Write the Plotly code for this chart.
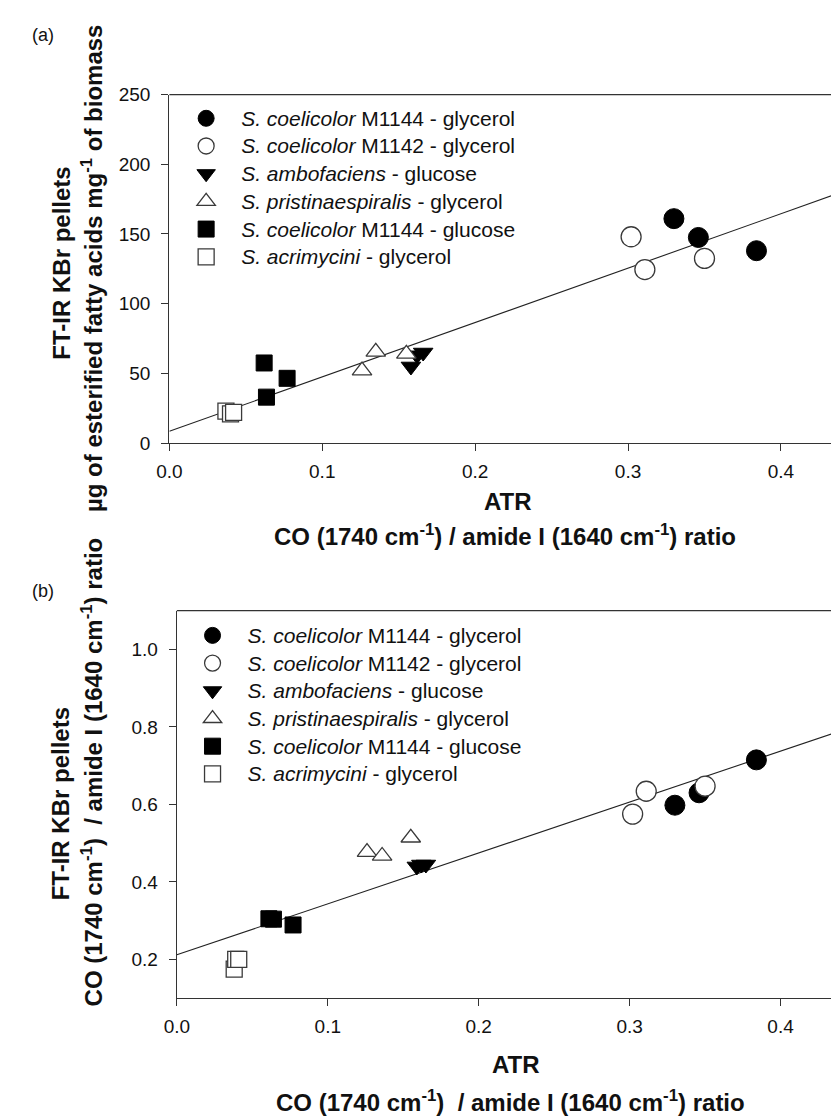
import numpy as np
import plotly.graph_objects as go

W, H = 839, 1117

# ---------------- data ----------------
series_names = [
    "<i>S. coelicolor</i> M1144 - glycerol",
    "<i>S. coelicolor</i> M1142 - glycerol",
    "<i>S. ambofaciens</i> - glucose",
    "<i>S. pristinaespiralis</i> - glycerol",
    "<i>S. coelicolor</i> M1144 - glucose",
    "<i>S. acrimycini</i> - glycerol",
]

# panel (a): x = ATR ratio, y = ug esterified fatty acids / mg biomass
a_m1144_gly_x = [0.330, 0.346, 0.384]
a_m1144_gly_y = [161.0, 147.5, 138.0]
a_m1142_gly_x = [0.302, 0.311, 0.350]
a_m1142_gly_y = [148.0, 124.5, 132.5]
a_ambo_glc_x = [0.158, 0.162, 0.166]
a_ambo_glc_y = [55.0, 63.0, 65.0]
a_pristi_gly_x = [0.126, 0.135, 0.155]
a_pristi_gly_y = [52.0, 65.5, 64.0]
a_m1144_glc_x = [0.062, 0.0635, 0.077]
a_m1144_glc_y = [57.5, 33.0, 46.5]
a_acri_gly_x = [0.037, 0.040, 0.042]
a_acri_gly_y = [23.0, 21.0, 22.0]
a_fit_intercept = 8.5
a_fit_slope = 390.0

# panel (b): x = ATR ratio, y = FT-IR KBr CO/amide I ratio
b_m1144_gly_x = [0.330, 0.346, 0.384]
b_m1144_gly_y = [0.598, 0.630, 0.715]
b_m1142_gly_x = [0.302, 0.311, 0.350]
b_m1142_gly_y = [0.575, 0.634, 0.647]
b_ambo_glc_x = [0.159, 0.162, 0.165]
b_ambo_glc_y = [0.440, 0.445, 0.445]
b_pristi_gly_x = [0.126, 0.136, 0.155]
b_pristi_gly_y = [0.477, 0.467, 0.514]
b_m1144_glc_x = [0.061, 0.064, 0.077]
b_m1144_glc_y = [0.305, 0.304, 0.289]
b_acri_gly_x = [0.038, 0.039, 0.041]
b_acri_gly_y = [0.175, 0.200, 0.200]
b_fit_intercept = 0.212
b_fit_slope = 1.314

a_xticks = [0.0, 0.1, 0.2, 0.3, 0.4]
a_yticks = [0, 50, 100, 150, 200, 250]
b_xticks = [0.0, 0.1, 0.2, 0.3, 0.4]
b_yticks = [0.2, 0.4, 0.6, 0.8, 1.0]

# ---------------- styling ----------------
FONT = "Liberation Sans, Arial, sans-serif"
AX = "#333333"
OUT = "#3a3a3a"
TXT = "#111111"
styles = [
    dict(symbol="circle", size=20, color="black", line=dict(color="black", width=1)),
    dict(symbol="circle", size=20, color="white", line=dict(color=OUT, width=1.3)),
    dict(symbol="triangle-down", size=17, color="black", line=dict(color="black", width=1)),
    dict(symbol="triangle-up", size=17, color="white", line=dict(color=OUT, width=1.3)),
    dict(symbol="square", size=16, color="black", line=dict(color="black", width=1)),
    dict(symbol="square", size=16, color="white", line=dict(color=OUT, width=1.3)),
]

fig = go.Figure()

def px_x(p):
    return p / W

def px_y(p):
    return 1 - p / H

# panel geometry (pixels)
a_left, a_top, a_bot = 150.7, 78.0, 433.3
b_left, b_top, b_bot = 158.3, 604.0, 999.0
a_xmax = (W - a_left) / 1553.0
b_xmax = (W - b_left) / 1533.0

# fit lines (behind markers)
a_line_x = [0.0, a_xmax]
fig.add_trace(go.Scatter(x=a_line_x, y=[a_fit_intercept + a_fit_slope * v for v in a_line_x],
                         mode="lines", line=dict(color="#222", width=1.1),
                         showlegend=False, hoverinfo="skip", xaxis="x", yaxis="y"))
b_line_x = [0.0, b_xmax]
fig.add_trace(go.Scatter(x=b_line_x, y=[b_fit_intercept + b_fit_slope * v for v in b_line_x],
                         mode="lines", line=dict(color="#222", width=1.1),
                         showlegend=False, hoverinfo="skip", xaxis="x2", yaxis="y2"))

a_sets = [(a_m1144_gly_x, a_m1144_gly_y), (a_m1142_gly_x, a_m1142_gly_y),
          (a_ambo_glc_x, a_ambo_glc_y), (a_pristi_gly_x, a_pristi_gly_y),
          (a_m1144_glc_x, a_m1144_glc_y), (a_acri_gly_x, a_acri_gly_y)]
b_sets = [(b_m1144_gly_x, b_m1144_gly_y), (b_m1142_gly_x, b_m1142_gly_y),
          (b_ambo_glc_x, b_ambo_glc_y), (b_pristi_gly_x, b_pristi_gly_y),
          (b_m1144_glc_x, b_m1144_glc_y), (b_acri_gly_x, b_acri_gly_y)]

def big(name):
    return '<span style="font-size:21px">%s</span>' % name

for name, (xs, ys), st in zip(series_names, a_sets, styles):
    fig.add_trace(go.Scatter(x=xs, y=ys, mode="markers", name=big(name), marker=st,
                             xaxis="x", yaxis="y", legend="legend"))
for name, (xs, ys), st in zip(series_names, b_sets, styles):
    fig.add_trace(go.Scatter(x=xs, y=ys, mode="markers", name=big(name), marker=st,
                             xaxis="x2", yaxis="y2", legend="legend2"))

axis_common = dict(showline=True, linecolor=AX, linewidth=1.3, ticks="outside",
                   ticklen=7, tickwidth=1.2, tickcolor=AX, showgrid=False, zeroline=False,
                   tickfont=dict(family=FONT, size=19, color=TXT))

fig.update_layout(
    width=W, height=H, margin=dict(l=0, r=0, t=0, b=0),
    paper_bgcolor="white", plot_bgcolor="white",
    font=dict(family=FONT, color=TXT),
    xaxis=dict(domain=[px_x(a_left), 1], range=[0, a_xmax], tickvals=a_xticks,
               tickformat=".1f", anchor="y", ticklabelstandoff=4, **axis_common),
    yaxis=dict(domain=[px_y(a_bot), px_y(a_top)], range=[0, 250], tickvals=a_yticks,
               anchor="x", ticklabelstandoff=7, **axis_common),
    xaxis2=dict(domain=[px_x(b_left), 1], range=[0, b_xmax], tickvals=b_xticks,
                tickformat=".1f", anchor="y2", ticklabelstandoff=4, **axis_common),
    yaxis2=dict(domain=[px_y(b_bot), px_y(b_top)], range=[0.1, 1.1], tickvals=b_yticks,
                tickformat=".1f", anchor="x2", ticklabelstandoff=7, **axis_common),
    legend=dict(x=px_x(152.5), y=px_y(83), xanchor="left", yanchor="top",
                bgcolor="rgba(0,0,0,0)", itemwidth=60, tracegroupgap=0,
                font=dict(family=FONT, size=19, color=TXT)),
    legend2=dict(x=px_x(159), y=px_y(610), xanchor="left", yanchor="top",
                 bgcolor="rgba(0,0,0,0)", itemwidth=60, tracegroupgap=0,
                 font=dict(family=FONT, size=19, color=TXT)),
    showlegend=True,
)

# top frame lines
fig.add_shape(type="line", xref="paper", yref="paper", x0=px_x(a_left), x1=1,
              y0=px_y(a_top), y1=px_y(a_top), line=dict(color=AX, width=1.3))
fig.add_shape(type="line", xref="paper", yref="paper", x0=px_x(b_left), x1=1,
              y0=px_y(b_top), y1=px_y(b_top), line=dict(color=AX, width=1.3))

def ann(text, x, y, size=24, bold=True, angle=0, xanchor="center"):
    fig.add_annotation(text=("<b>%s</b>" % text) if bold else text,
                       x=px_x(x), y=px_y(y), xref="paper", yref="paper",
                       showarrow=False, textangle=angle, xanchor=xanchor, yanchor="middle",
                       font=dict(family=FONT, size=size, color=TXT))

ann("(a)", 22, 17, size=18, bold=False)
ann("(b)", 22, 584, size=18, bold=False)

ann("FT-IR KBr pellets", 41, 250, angle=-90)
ann("µg of esterified fatty acids mg<sup>-1</sup> of biomass", 72, 255, angle=-90)
ann("ATR", 495, 493)
ann("CO (1740 cm<sup>-1</sup>) / amide I (1640 cm<sup>-1</sup>) ratio", 492, 527)

ann("FT-IR KBr pellets", 41, 801, angle=-90)
ann("CO (1740 cm<sup>-1</sup>)\u00a0 / amide I (1640 cm<sup>-1</sup>) ratio", 72, 768, angle=-90)
ann("ATR", 503, 1067)
ann("CO (1740 cm<sup>-1</sup>)\u00a0 / amide I (1640 cm<sup>-1</sup>) ratio", 497, 1104)

fig.write_html("out.html")
